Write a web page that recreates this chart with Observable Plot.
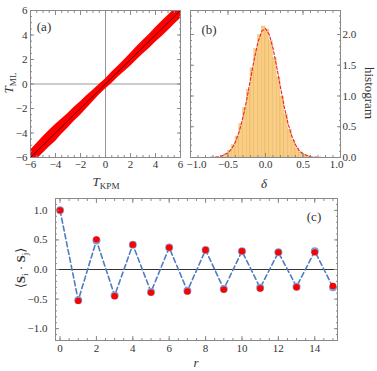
<!DOCTYPE html>
<html><head><meta charset="utf-8">
<script src="https://cdn.jsdelivr.net/npm/d3@7"></script>
<script src="https://cdn.jsdelivr.net/npm/@observablehq/plot@0.6"></script>
<style>
body{margin:0;background:#fff}
#fig{position:relative;width:377px;height:371px;font-family:"Liberation Serif","DejaVu Serif",serif;color:#333;overflow:hidden}
#fig svg{position:absolute}
.lab{position:absolute;white-space:nowrap;color:#333;font-size:13px;line-height:1;transform:translate(-50%,-50%)}
.lab sub{font-size:70%;vertical-align:-0.35em;font-style:normal}
.it{font-style:italic}
</style></head><body><div id="fig"></div>
<script>
// ---------- panel (a): T_ML vs T_KPM ----------
const bandX  = [-6,-5.5,-5,-4.5,-4,-3.5,-3,-2.5,-2,-1.5,-1,-0.5,0,0.5,1,1.5,2,2.5,3,3.5,4,4.5,5,5.5,6];
const bandLo = [-6.6,-6.15,-5.65,-5.15,-4.7,-4.1,-3.6,-3.05,-2.55,-2.0,-1.45,-0.9,-0.4,0.05,0.55,1.0,1.45,1.95,2.45,2.9,3.4,3.85,4.35,4.85,5.35];
const bandHi = [-5.4,-4.85,-4.3,-3.8,-3.3,-2.85,-2.4,-1.9,-1.45,-0.95,-0.5,-0.05,0.4,0.95,1.45,1.95,2.5,3.05,3.55,4.05,4.6,5.1,5.6,6.1,6.6];
const fitX = [-6, 6];
const fitY = [-6, 6];
const aTicks = [-6,-4,-2,0,2,4,6];

// ---------- panel (b): histogram of delta ----------
const binEdges = [-0.6,-0.55,-0.5,-0.45,-0.4,-0.35,-0.3,-0.25,-0.2,-0.15,-0.1,-0.05,0,0.05,0.1,0.15,0.2,0.25,0.3,0.35,0.4,0.45,0.5,0.55,0.6];
const binHeights = [0.02,0.05,0.11,0.20,0.34,0.54,0.80,1.10,1.45,1.76,1.99,2.13,2.08,1.89,1.62,1.30,0.99,0.70,0.45,0.27,0.15,0.08,0.04,0.02];
const curveX = [-1,-0.9,-0.8,-0.7,-0.6,-0.5,-0.45,-0.4,-0.35,-0.3,-0.25,-0.2,-0.15,-0.1,-0.05,0,0.05,0.1,0.15,0.2,0.25,0.3,0.35,0.4,0.45,0.5,0.6,0.7,0.8,0.9,1];
const curveY = [0,0,0,0.003,0.017,0.075,0.144,0.255,0.424,0.655,0.945,1.274,1.60,1.877,2.054,2.097,1.998,1.776,1.473,1.140,0.823,0.555,0.349,0.205,0.112,0.057,0.012,0.002,0,0,0];
const bXTicks = [-1,-0.5,0,0.5,1];
const bYTicks = [0,0.5,1,1.5,2];

// ---------- panel (c): spin correlation ----------
const rVals = [0,1,2,3,4,5,6,7,8,9,10,11,12,13,14,15];
const corrBlue = [1.0,-0.52,0.49,-0.44,0.42,-0.38,0.37,-0.36,0.33,-0.33,0.31,-0.31,0.29,-0.29,0.31,-0.30];
const corrRed  = [1.0,-0.53,0.51,-0.45,0.42,-0.39,0.37,-0.37,0.33,-0.34,0.31,-0.32,0.29,-0.30,0.29,-0.28];
const cXTicks = [0,2,4,6,8,10,12,14];
const cYTicks = [-1,-0.5,0,0.5,1];

const fmtInt = d3.format("d");
const fmt1 = d3.format(".1f");
const frameColor = "#8a8a8a";
const tickColor = "#8a8a8a";

function frameTicks(xMajor, xMinor, yMajor, yMinor) {
  const o = {stroke: tickColor, fill: "none", label: null};
  return [
    Plot.axisX(xMajor, {...o, anchor: "bottom", tickSize: -4}),
    Plot.axisX(xMajor, {...o, anchor: "top", tickSize: -4}),
    Plot.axisX(xMinor, {...o, anchor: "bottom", tickSize: -2}),
    Plot.axisX(xMinor, {...o, anchor: "top", tickSize: -2}),
    Plot.axisY(yMajor, {...o, anchor: "left", tickSize: -4}),
    Plot.axisY(yMajor, {...o, anchor: "right", tickSize: -4}),
    Plot.axisY(yMinor, {...o, anchor: "left", tickSize: -2}),
    Plot.axisY(yMinor, {...o, anchor: "right", tickSize: -2})
  ];
}
const range = (a, b, s) => d3.range(Math.round((b - a) / s) + 1).map(i => +(a + i * s).toFixed(6));

const fig = document.getElementById("fig");
const style = {fontFamily: '"Liberation Serif","DejaVu Serif",serif', fontSize: "11px", color: "#333", background: "white"};

// panel a
const pa = Plot.plot({
  width: 188, height: 195,
  marginLeft: 30, marginRight: 8, marginTop: 10, marginBottom: 38,
  x: {domain: [-6, 6], axis: null},
  y: {domain: [-6, 6], axis: null},
  style,
  marks: [
    Plot.ruleX([0], {stroke: "#999", strokeWidth: 1}),
    Plot.ruleY([0], {stroke: "#999", strokeWidth: 1}),
    Plot.areaY(bandX, {x: d => d, y1: bandLo, y2: bandHi, fill: "#ff0000", clip: true}),
    Plot.line(fitX, {x: d => d, y: fitY, stroke: "black", strokeWidth: 0.6}),
    Plot.frame({stroke: frameColor}),
    ...frameTicks(aTicks, range(-6, 6, 0.5), aTicks, range(-6, 6, 0.5)),
    Plot.axisX(aTicks, {anchor: "bottom", tickSize: 0, tickPadding: 3, tickFormat: fmtInt, label: null, fill: "#333"}),
    Plot.axisY(aTicks, {anchor: "left", tickSize: 0, tickPadding: 3, tickFormat: fmtInt, label: null, fill: "#333"})
  ]
});
pa.style.left = "0px"; pa.style.top = "0px";
fig.appendChild(pa);

// panel b
const bars = binHeights.map((h, i) => ({x1: binEdges[i], x2: binEdges[i + 1], h}));
const pb = Plot.plot({
  width: 192, height: 195,
  marginLeft: 5, marginRight: 37, marginTop: 10, marginBottom: 38,
  x: {domain: [-1, 1], axis: null},
  y: {domain: [0, 2.39], axis: null},
  style,
  marks: [
    Plot.rectY(bars, {x1: "x1", x2: "x2", y: "h", fill: "#fbc873", fillOpacity: 0.9, stroke: "#c9a060", strokeWidth: 0.4, strokeOpacity: 0.6}),
    Plot.line(curveX, {x: d => d, y: curveY, stroke: "#e8262a", strokeWidth: 1.1, strokeDasharray: "3,2"}),
    Plot.frame({stroke: frameColor}),
    ...frameTicks(bXTicks, range(-1, 1, 0.1), bYTicks, range(0, 2.3, 0.1)),
    Plot.axisX(bXTicks.slice(1, -1), {anchor: "bottom", tickSize: 0, tickPadding: 3, tickFormat: fmt1, label: null, fill: "#333"}),
    Plot.axisX([-1], {anchor: "bottom", tickSize: 0, tickPadding: 3, tickFormat: fmt1, label: null, fill: "#333", dx: 6}),
    Plot.axisX([1], {anchor: "bottom", tickSize: 0, tickPadding: 3, tickFormat: fmt1, label: null, fill: "#333", dx: -4}),
    Plot.axisY(bYTicks, {anchor: "right", tickSize: 0, tickPadding: 2, tickFormat: fmt1, label: null, fill: "#333"})
  ]
});
pb.style.left = "185px"; pb.style.top = "0px";
fig.appendChild(pb);

// panel c
const pc = Plot.plot({
  width: 377, height: 181,
  marginLeft: 55, marginRight: 40, marginTop: 8, marginBottom: 31,
  x: {domain: [-0.25, 15.25], axis: null},
  y: {domain: [-1.2, 1.2], axis: null},
  style,
  marks: [
    Plot.ruleY([0], {stroke: "#333", strokeWidth: 1}),
    Plot.line(rVals, {x: d => d, y: corrBlue, stroke: "#4f7cbf", strokeWidth: 1.6, strokeDasharray: "5,3"}),
    Plot.dot(rVals, {x: d => d, y: corrBlue, r: 4, fill: "#7b9fd3"}),
    Plot.dot(rVals, {x: d => d, y: corrRed, r: 3.2, fill: "#ff0000"}),
    Plot.frame({stroke: frameColor}),
    ...frameTicks(cXTicks, range(0, 15, 0.5), cYTicks, range(-1.2, 1.2, 0.1)),
    Plot.axisX(cXTicks, {anchor: "bottom", tickSize: 0, tickPadding: 4, tickFormat: fmtInt, label: null, fill: "#333"}),
    Plot.axisY(cYTicks, {anchor: "left", tickSize: 0, tickPadding: 8, tickFormat: fmt1, label: null, fill: "#333"})
  ]
});
pc.style.left = "0px"; pc.style.top = "190px";
fig.appendChild(pc);

// labels
const labels = [
  {html: "(a)", x: 44, y: 26},
  {html: '<span class="it">T</span><sub>ML</sub>', x: 10, y: 83, rot: -90},
  {html: '<span class="it">T</span><sub>KPM</sub>', x: 106, y: 183},
  {html: "(b)", x: 209, y: 29},
  {html: '<span class="it">δ</span>', x: 264, y: 183},
  {html: "histogram", x: 369, y: 93, rot: 90},
  {html: "(c)", x: 314, y: 216},
  {html: '⟨<b>S</b><sub class="it">i</sub> · <b>S</b><sub class="it">j</sub>⟩', x: 22, y: 268, rot: -90},
  {html: '<span class="it">r</span>', x: 196, y: 362}
];
for (const l of labels) {
  const d = document.createElement("div");
  d.className = "lab";
  d.innerHTML = l.html;
  d.style.left = l.x + "px";
  d.style.top = l.y + "px";
  if (l.rot) d.style.transform = `translate(-50%,-50%) rotate(${l.rot}deg)`;
  fig.appendChild(d);
}
</script>
</body></html>
